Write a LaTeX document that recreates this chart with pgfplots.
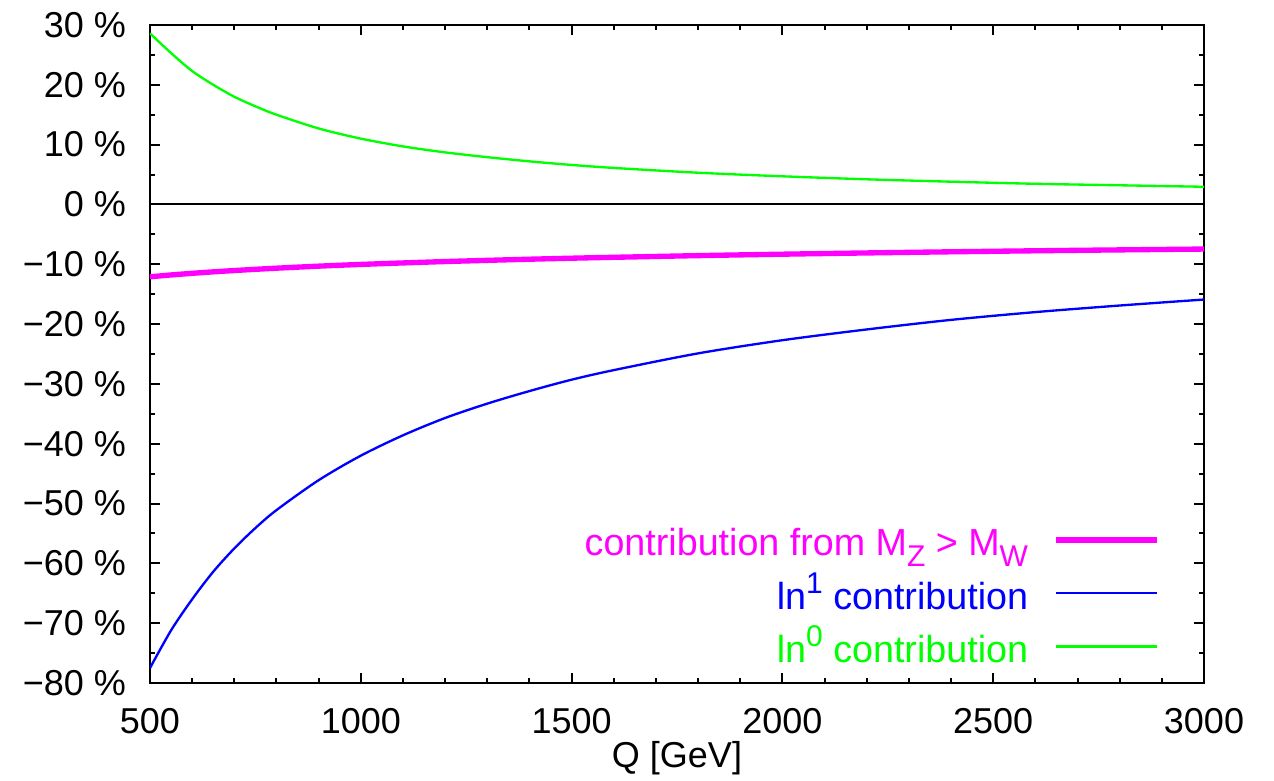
\documentclass[border=0pt]{standalone}
\usepackage{fontspec}
\setmainfont{Liberation Sans}
\usepackage{pgfplots}
\pgfplotsset{compat=1.18}
\definecolor{cMZ}{RGB}{255,0,255}
\definecolor{cLnOne}{RGB}{0,0,255}
\definecolor{cLnZero}{RGB}{0,255,0}
% gnuplot-style raised / lowered text
\newcommand\sups[1]{\raisebox{0.42em}{\fontsize{9}{9}\selectfont#1}}
\newcommand\subs[1]{\raisebox{-0.28em}{\fontsize{9}{9}\selectfont#1}}

\begin{document}
\begin{tikzpicture}[font=\fontsize{10.8}{13}\selectfont]
\useasboundingbox (-45pt,-29.4pt) rectangle (337.2pt,204.9pt);
\begin{axis}[
    scale only axis,
    width=316.2pt, height=197.4pt,
    xmin=500, xmax=3000,
    ymin=-80, ymax=30,
    xtick={500,1000,...,3000},
    xticklabels={500,1000,1500,2000,2500,3000},
    minor x tick num=4,
    ytick={-80,-70,...,30},
    yticklabels={−80 \%,−70 \%,−60 \%,−50 \%,−40 \%,−30 \%,−20 \%,−10 \%,0 \%,10 \%,20 \%,30 \%},
    minor y tick num=1,
    tick align=inside,
    major tick length=3pt, minor tick length=1.5pt,
    every tick/.style={black, line width=0.6pt},
    axis line style={black, line width=0.7pt},
    yticklabel style={xshift=-3.7pt},
    xticklabel style={yshift=-4pt},
    xlabel={Q [GeV]},
    xlabel style={at={(axis description cs:0.5,0)}, anchor=north, yshift=-13.9pt},
    legend cell align=right,
    legend plot pos=right,
    legend image code/.code={\draw[#1] (0pt,0pt) -- (30.3pt,0pt);},
    legend style={
      at={(rel axis cs:0.9583,0.0137)}, anchor=south east,
      draw=none, fill=none, inner sep=0pt, row sep=0pt,
      font=\fontsize{11.3}{13}\selectfont,
      /tikz/column sep=7.5pt,
      nodes={inner xsep=0pt, inner ysep=2.8pt, text height=10pt, text depth=0.4pt},
    },
]

% zero axis
\addplot[black, line width=0.6pt, forget plot] coordinates {(500,0) (3000,0)};

% contribution from M_Z > M_W
\addplot[cMZ, line width=1.6pt, smooth] coordinates {
  (500,-12.10) (550,-11.79) (600,-11.52) (650,-11.27) (700,-11.05) (750,-10.85)
  (800,-10.66) (900,-10.32) (1000,-10.03) (1100,-9.78) (1200,-9.55) (1300,-9.35)
  (1400,-9.16) (1500,-8.99) (1600,-8.84) (1800,-8.56) (2000,-8.32) (2200,-8.11)
  (2400,-7.92) (2600,-7.75) (2800,-7.60) (3000,-7.46)
};
\addlegendentry{\textcolor{cMZ}{contribution from M\subs{Z} > M\subs{W}}}

% ln^1 contribution
\addplot[cLnOne, line width=0.7pt, smooth] coordinates {
  (500,-77.5) (550,-71.2) (600,-66.0) (650,-61.4) (700,-57.5) (750,-54.1)
  (800,-51.1) (900,-46.1) (1000,-42.0) (1100,-38.6) (1200,-35.7) (1300,-33.3)
  (1400,-31.2) (1500,-29.3) (1600,-27.7) (1800,-24.9) (2000,-22.7) (2200,-20.9)
  (2400,-19.3) (2600,-18.0) (2800,-16.9) (3000,-15.9)
};
\addlegendentry{\textcolor{cLnOne}{ln\sups{1} contribution}}

% ln^0 contribution
\addplot[cLnZero, line width=0.7pt, smooth] coordinates {
  (500,28.6) (550,25.3) (600,22.3) (650,20.0) (700,18.0) (750,16.4)
  (800,15.0) (900,12.7) (1000,11.0) (1100,9.7) (1200,8.7) (1300,7.9)
  (1400,7.2) (1500,6.6) (1600,6.1) (1800,5.3) (2000,4.7) (2200,4.2)
  (2400,3.8) (2600,3.45) (2800,3.2) (3000,2.95)
};
\addlegendentry{\textcolor{cLnZero}{ln\sups{0} contribution}}

\end{axis}
\end{tikzpicture}
\end{document}
